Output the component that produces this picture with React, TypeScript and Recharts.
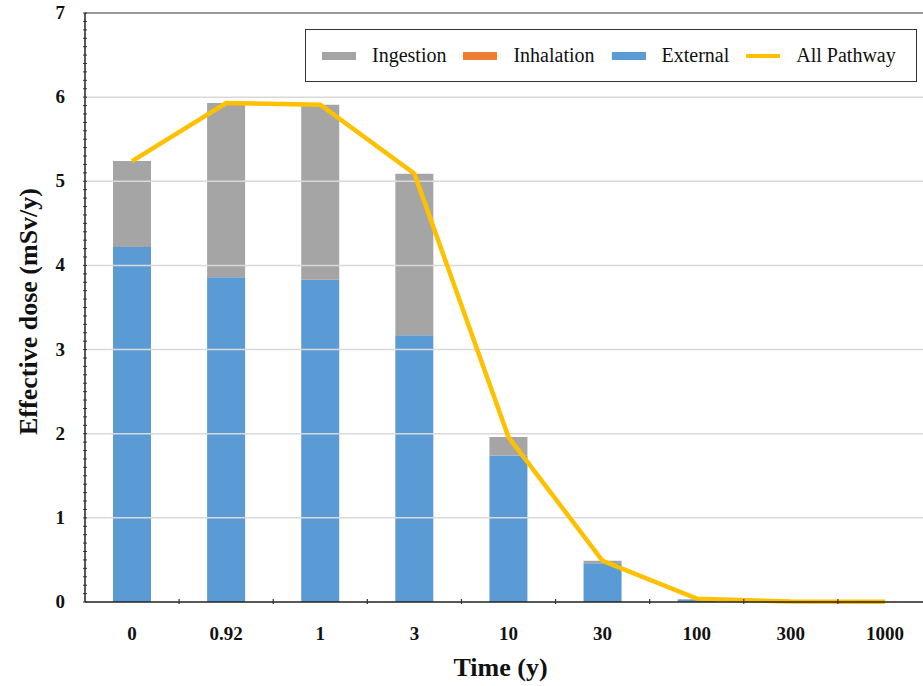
import React from 'react';
import { ComposedChart, Bar, Line, XAxis, YAxis, ReferenceLine } from 'recharts';

const categories = ['0', '0.92', '1', '3', '10', '30', '100', '300', '1000'];
const external = [4.22, 3.86, 3.83, 3.17, 1.74, 0.46, 0.03, 0.003, 0.001];
const inhalation = [0, 0, 0, 0, 0, 0, 0, 0, 0];
const ingestion = [1.02, 2.07, 2.08, 1.92, 0.22, 0.03, 0.005, 0.001, 0];
const allPathway = [5.24, 5.93, 5.91, 5.09, 1.96, 0.49, 0.04, 0.005, 0.002];
const majorTicks = [0, 1, 2, 3, 4, 5, 6, 7];

const data = categories.map((t, i) => ({
  time: t,
  external: external[i],
  inhalation: inhalation[i],
  ingestion: ingestion[i],
  all: allPathway[i],
}));

// minor ticks every 0.1 on the value axis
const yTicks: number[] = [];
for (let i = 0; i <= 70; i++) yTicks.push(i / 10);

const W = 940;
const H = 686;
const LEFT = 85;
const RIGHT_M = 8;
const TOP = 13;
const BOTTOM = 84;
const BAND = (W - LEFT - RIGHT_M) / categories.length;

const SERIF = '"Liberation Serif", "Times New Roman", serif';
const GRAY = '#A5A5A5';
const ORANGE = '#ED7D31';
const BLUE = '#5B9BD5';
const GOLD = '#FFC000';

const YTick = (props: any) => {
  const { x, y, payload } = props;
  const v = payload.value;
  const major = Math.abs(v - Math.round(v)) < 1e-6;
  return (
    <g>
      <line x1={x} x2={x + 4} y1={y} y2={y} stroke="#333" strokeWidth={1} />
      {major && (
        <text x={x - 18} y={y + 6} textAnchor="end" fontFamily={SERIF} fontWeight="bold" fontSize={19} fill="#111">
          {Math.round(v)}
        </text>
      )}
    </g>
  );
};

const XTick = (props: any) => {
  const { x, y, payload } = props;
  return (
    <g>
      <line x1={x + BAND / 2} x2={x + BAND / 2} y1={y} y2={y - 5} stroke="#333" strokeWidth={1.2} />
      <text x={x} y={y + 36} textAnchor="middle" fontFamily={SERIF} fontWeight="bold" fontSize={19} fill="#111">
        {payload.value}
      </text>
    </g>
  );
};

const legendItems = [
  { name: 'Ingestion', color: GRAY, line: false },
  { name: 'Inhalation', color: ORANGE, line: false },
  { name: 'External', color: BLUE, line: false },
  { name: 'All Pathway', color: GOLD, line: true },
];

const App: React.FC = () => {
  return (
    <div style={{ position: 'absolute', left: 0, top: 0, width: 923, height: 686, overflow: 'hidden', background: '#fff' }}>
      <ComposedChart width={W} height={H} data={data} margin={{ top: TOP, right: RIGHT_M, bottom: 0, left: 0 }}>
        {majorTicks.slice(1, 7).map((v) => (
          <ReferenceLine key={v} y={v} stroke="#d9d9d9" strokeWidth={1.5} />
        ))}
        <ReferenceLine y={7} stroke="#333" strokeWidth={1.2} />
        <XAxis
          dataKey="time"
          height={BOTTOM}
          axisLine={{ stroke: '#222', strokeWidth: 1.5 }}
          tickLine={false}
          tickSize={0}
          tick={<XTick />}
          interval={0}
          label={() => (
            <text x={LEFT + (W - LEFT - RIGHT_M) / 2 - 8} y={H - 10} textAnchor="middle" fontFamily={SERIF} fontWeight="bold" fontSize={26} fill="#111">
              Time (y)
            </text>
          )}
        />
        <YAxis
          width={LEFT}
          domain={[0, 7]}
          ticks={yTicks}
          interval={0}
          axisLine={{ stroke: '#222', strokeWidth: 1.5 }}
          tickLine={false}
          tickSize={0}
          tick={<YTick />}
          label={() => (
            <text
              x={28}
              y={TOP + (H - TOP - BOTTOM) / 2 + 4}
              transform={`rotate(-90, 28, ${TOP + (H - TOP - BOTTOM) / 2 + 4})`}
              textAnchor="middle"
              dominantBaseline="central"
              fontFamily={SERIF}
              fontWeight="bold"
              fontSize={26}
              fill="#111"
            >
              Effective dose (mSv/y)
            </text>
          )}
        />
        <Bar dataKey="external" stackId="a" fill={BLUE} barSize={38} isAnimationActive={false} />
        <Bar dataKey="inhalation" stackId="a" fill={ORANGE} barSize={38} isAnimationActive={false} />
        <Bar dataKey="ingestion" stackId="a" fill={GRAY} barSize={38} isAnimationActive={false} />
        <Line dataKey="all" type="linear" stroke={GOLD} strokeWidth={4.5} dot={false} isAnimationActive={false} />
      </ComposedChart>
      <div
        style={{
          position: 'absolute',
          left: 305,
          top: 29,
          width: 612,
          height: 53,
          boxSizing: 'border-box',
          border: '1.5px solid #333',
          background: '#fff',
          display: 'flex',
          alignItems: 'center',
          paddingLeft: 16,
          fontFamily: SERIF,
          fontSize: 20,
          color: '#111',
          whiteSpace: 'nowrap',
        }}
      >
        {legendItems.map((it) => (
          <div key={it.name} style={{ display: 'flex', alignItems: 'center', marginRight: 17, flexShrink: 0 }}>
            <div style={{ width: 34, height: it.line ? 4 : 8, background: it.color, marginRight: 16 }} />
            <span>{it.name}</span>
          </div>
        ))}
      </div>
    </div>
  );
};

export default App;
